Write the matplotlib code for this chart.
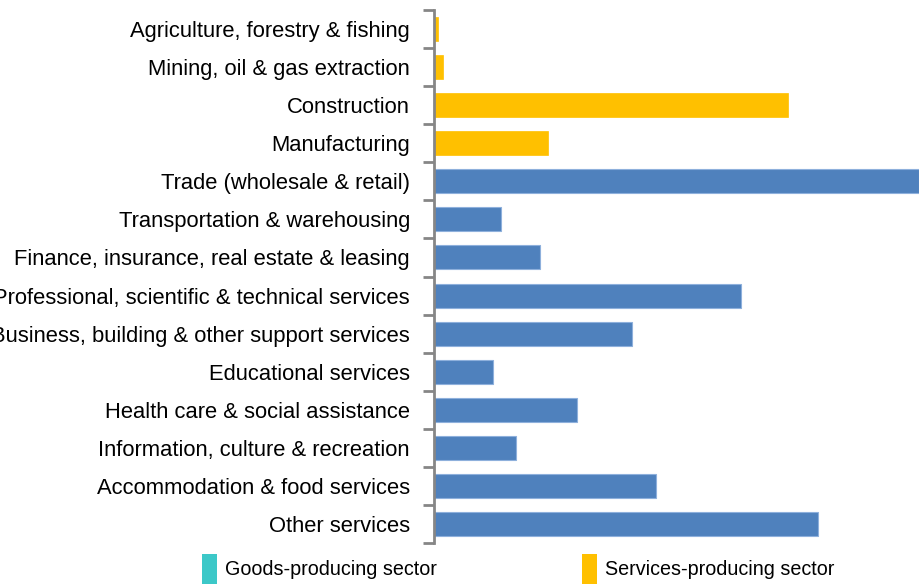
import matplotlib.pyplot as plt
from matplotlib.patches import Patch
from matplotlib.ticker import FixedLocator

plt.rcParams['font.family'] = ['Liberation Sans', 'DejaVu Sans']

industries = [
    'Agriculture, forestry & fishing',
    'Mining, oil & gas extraction',
    'Construction',
    'Manufacturing',
    'Trade (wholesale & retail)',
    'Transportation & warehousing',
    'Finance, insurance, real estate & leasing',
    'Professional, scientific & technical services',
    'Business, building & other support services',
    'Educational services',
    'Health care & social assistance',
    'Information, culture & recreation',
    'Accommodation & food services',
    'Other services',
]
values = [4, 9, 354, 114, 485, 67, 106, 307, 198, 59, 143, 82, 222, 384]
sector = ['goods'] * 4 + ['services'] * 10

gold = '#FFC000'
blue = '#4F81BD'
teal = '#3CC8C8'

fig = plt.figure(figsize=(9.22, 5.86), dpi=100)
ax = fig.add_axes([434 / 922, 1 - 543 / 586, (919 - 434) / 922, (543 - 10) / 586])

ypos = list(range(len(industries)))
for y, v, s in zip(ypos, values, sector):
    if s == 'goods':
        ax.barh(y, v, height=0.63, color=gold, edgecolor=gold, linewidth=0.5)
    else:
        ax.barh(y, v, height=0.63, color=blue, edgecolor='#8EB0DC', linewidth=0.8)

ax.set_ylim(len(industries) - 0.5, -0.5)
ax.set_xlim(0, 485)
ax.set_yticks(ypos)
ax.set_yticklabels(industries, fontsize=15.8)
ax.yaxis.set_minor_locator(FixedLocator([i - 0.5 for i in range(len(industries) + 1)]))
ax.tick_params(axis='y', which='major', length=0, pad=17.3)
ax.tick_params(axis='y', which='minor', length=8, width=2, color='#868686')
ax.set_xticks([])

for side in ['top', 'right', 'bottom']:
    ax.spines[side].set_visible(False)
ax.spines['left'].set_color('#868686')
ax.spines['left'].set_linewidth(2)

handles = [Patch(facecolor=teal, label='Goods-producing sector'),
           Patch(facecolor=gold, label='Services-producing sector')]
fig.legend(handles=handles, loc='center left', bbox_to_anchor=(194 / 922, 1 - 569 / 586),
           ncol=2, frameon=False, fontsize=14.2, handlelength=0.75, handleheight=1.9,
           handletextpad=0.4, columnspacing=7.4, borderaxespad=0)

plt.savefig('out.png', dpi=100)
plt.close()
